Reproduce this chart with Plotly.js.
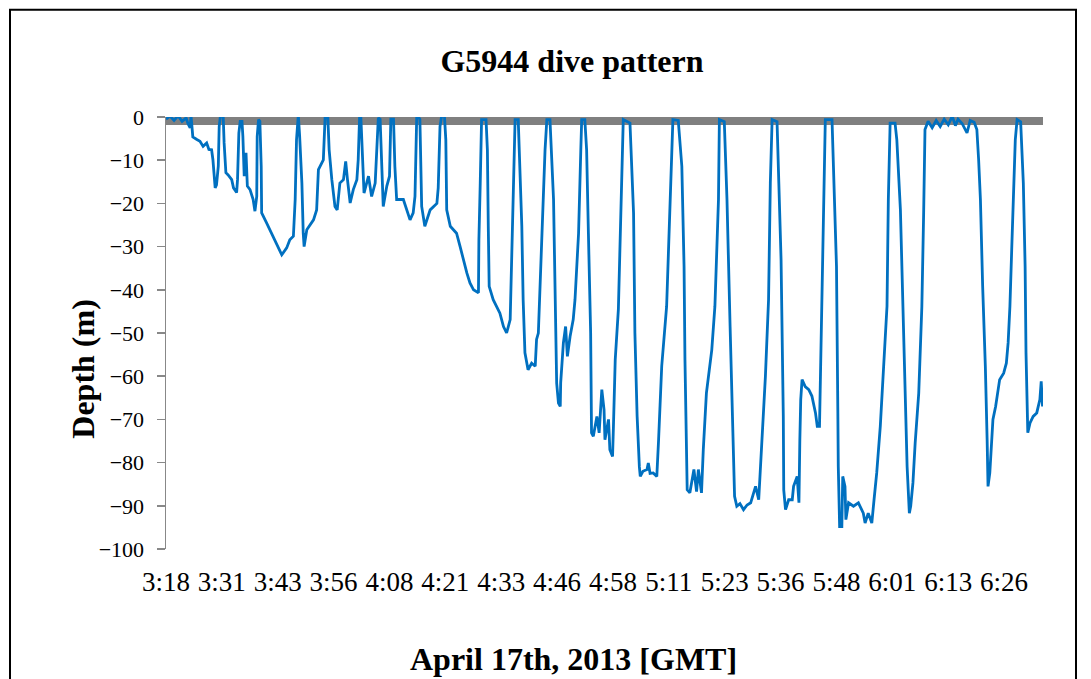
<!DOCTYPE html>
<html>
<head>
<meta charset="utf-8">
<script src="https://cdn.plot.ly/plotly-3.0.1.min.js"></script>
<style>
html,body{margin:0;padding:0;background:#fff;}
#chart{width:1091px;height:679px;}
</style>
</head>
<body>
<div id="chart"></div>
<script>
// Elapsed minutes since 03:18 GMT, April 17th 2013
const timeMin = [
0,0.9,1.8,2.7,3.6,4.5,4.9,5.4,5.6,6.0,6.9,7.6,8.3,9.1,9.6,10.2,10.5,10.7,11.0,11.3,11.7,11.9,12.2,12.8,13.0,13.4,13.9,14.7,15.1,15.8,16.0,16.3,16.6,17.0,17.2,17.5,17.9,18.2,18.8,19.5,19.9,20.3,20.4,20.7,21.0,21.3,21.4,22.5,24.0,25.5,25.9,27.0,27.7,28.5,28.9,29.2,29.6,29.9,30.4,30.7,30.9,31.5,33.0,33.7,34.1,35.2,35.6,36.2,36.5,37.1,37.8,38.3,38.9,39.7,40.2,40.6,41.2,41.9,42.7,43.0,43.3,43.6,44.0,44.3,45.3,46.0,46.8,47.1,47.5,47.9,48.2,48.6,49.4,50.0,50.3,50.9,51.2,51.6,53.1,53.9,54.6,55.3,55.7,56.1,56.8,57.2,57.9,59.1,60.6,60.9,61.3,61.7,62.3,62.6,62.8,63.6,65.0,65.8,66.5,67.3,68.0,68.8,69.9,70.0,70.3,70.6,71.6,71.9,72.1,72.3,73.2,74.7,75.5,76.2,77.0,77.2,77.7,78.1,78.8,79.2,79.6,79.9,80.3,81.0,81.8,82.6,82.9,83.3,83.7,84.3,84.8,85.2,85.9,86.7,87.1,87.4,87.8,88.2,88.3,88.9,89.4,89.8,90.4,91.1,91.5,92.3,92.8,93.0,93.7,94.1,94.5,95.0,95.2,95.6,96.4,96.9,97.5,98.0,98.2,99.0,99.3,99.9,100.1,100.5,101.2,101.6,102.0,102.3,103.8,104.6,104.9,105.4,105.9,106.1,106.7,107.6,107.9,108.3,109.0,109.8,110.2,110.9,112.0,112.6,113.1,113.4,114.6,115.4,115.9,116.1,116.6,117.2,118.1,118.7,119.1,119.8,120.2,120.9,122.1,122.8,123.6,123.8,124.9,125.5,126.2,126.6,127.2,127.7,128.4,129.2,130.0,130.8,131.9,132.6,133.0,133.7,134.1,134.8,135.2,135.6,136.7,137.1,137.6,138.1,138.2,138.6,139.3,140.1,140.4,141.2,141.6,141.8,142.0,142.3,143.0,143.8,144.5,145.3,145.7,146.2,146.3,146.6,146.8,147.1,147.5,149.0,149.4,150.0,150.3,150.4,150.7,151.2,151.4,151.9,152.1,152.7,153.8,154.9,156.0,156.4,157.1,157.9,158.4,159.0,159.8,160.5,161.3,161.6,162.0,163.1,163.5,164.3,164.9,165.4,165.8,166.3,166.6,167.1,167.6,168.4,168.7,169.1,169.5,169.8,170.5,171.4,172.3,173.2,174.1,175.0,175.9,176.6,177.2,178.1,179.2,179.9,180.8,181.4,181.8,182.2,182.7,183.1,183.3,183.7,183.9,184.3,184.6,185.0,185.6,186.1,186.5,187.4,188.0,188.4,188.8,189.2,190.0,190.4,191.2,191.8,192.2,192.4,192.6,192.8,193.3,194.0,194.8,195.5,195.8,196.1
];
// Depth in metres (negative = below surface)
const depthM = [
-0.5,0.2,-0.8,0.3,-1.0,-0.2,-1.5,-2.5,0.3,-4.6,-5.2,-5.6,-6.8,-6.0,-7.5,-7.6,-9.9,-13.7,-16.4,-15.7,-11.4,-2.2,0.5,0,-6,-12.9,-13.4,-14.5,-16.4,-17.5,-14.5,-3.7,-1.0,-1.0,-4.5,-13.7,-8.3,-16,-16.8,-19.1,-21.8,-18.4,-4.5,-0.6,-1.0,-11.4,-22.2,-24.5,-27.6,-30.7,-31.9,-30.3,-28.4,-27.6,-19.1,-5.3,0.5,-4.5,-15.3,-26.9,-30.0,-26.1,-23.8,-21.5,-12.2,-9.9,0.1,0,-7.6,-14.5,-20.7,-21.5,-15.3,-14.5,-10.3,-14.5,-19.9,-16.8,-14.5,-9.9,-0.2,-0.2,-11.4,-17.6,-13.7,-18.4,-15.3,-7.6,-0.2,-0.5,-11.4,-20.7,-16,-13.7,-0.5,-0.5,-11.4,-19.1,-19.1,-21.5,-23.8,-22.2,-18.4,0.5,-0.5,-20.7,-25.3,-21.5,-20,-16.4,-2.2,0.5,0.1,-5.3,-21.5,-25.3,-26.9,-30,-33,-36.1,-38.4,-40,-40.7,-28.4,-15.3,-0.6,-0.6,-7.6,-25.3,-39.2,-42.3,-45.4,-48.5,-50,-46.9,-38.4,-13.7,-0.6,-0.6,-11.4,-25.3,-42.3,-54.6,-58.5,-57,-57.7,-51.5,-50,-38.4,-23,-7.6,-0.6,-0.6,-19.1,-50,-61.6,-66.2,-67,-61.5,-52.3,-48.5,-55.4,-50.8,-46.9,-42.3,-26.9,-7.6,-0.6,-0.6,-7.6,-26.9,-50,-73.1,-73.9,-69.3,-73.1,-63.1,-67.8,-74.7,-70,-77,-78.6,-71.6,-56.2,-44.6,-30,-11.4,-0.6,-1.4,-22.2,-50,-69.3,-81,-83.2,-82,-81.6,-80.1,-82.5,-82.4,-83.2,-74.7,-57.7,-43.8,-23,-7.6,-0.6,-0.8,-11.4,-34.6,-56.2,-86.3,-87,-81.6,-86.7,-81.6,-87,-77,-63.9,-53.9,-43.8,-19.1,-0.6,-1.1,-19.1,-48.5,-65.4,-87.8,-90.1,-89.5,-90.9,-89.8,-89.3,-85.5,-88.6,-80.9,-69.3,-60,-42.3,-15.3,-0.6,-1.1,-15.3,-33,-69.3,-86.3,-90.9,-88.6,-88.6,-85.5,-83.2,-89.3,-74.7,-65.4,-60.8,-62.4,-63.1,-64.6,-68.5,-71.6,-71.6,-65.4,-53.9,-42.3,-19.1,-0.6,-0.6,-16,-34.6,-67.8,-80.9,-94.8,-94.8,-83.2,-85.5,-93.2,-89.3,-90.1,-89.3,-91.7,-94,-91.7,-94,-88.6,-82.4,-71.6,-59.3,-43.8,-19.1,-1.4,-1.4,-5.3,-21.5,-43.8,-63.9,-80.9,-91.7,-90.1,-84.7,-75.5,-63.9,-53.9,-43.8,-22.2,-2.9,-1.0,-2.5,-0.8,-2.2,-0.5,-1.8,0.2,-2.0,-0.5,-1.5,-3.7,-0.8,-1.2,-2.9,-9.9,-19.1,-39.2,-50,-57.7,-74.7,-85.5,-82.4,-77.8,-70,-67,-63.9,-60.8,-59.3,-57,-52.3,-43.8,-30.7,-5.3,-0.6,-1.1,-15.3,-34.6,-54.6,-67.8,-73.1,-70.8,-69.3,-68.5,-65.4,-61.2,-67
];
// Category tick positions (minutes since 03:18) and their labels
const tickMinutes = [0,12.5,25,37.5,50,62.5,75,87.5,100,112.5,125,137.5,150,162.5,175,187.5];
const tickLabels = ["3:18","3:31","3:43","3:56","4:08","4:21","4:33","4:46","4:58","5:11","5:23","5:36","5:48","6:01","6:13","6:26"];
const yTicks = [0,-10,-20,-30,-40,-50,-60,-70,-80,-90,-100];

const chartTitle = "G5944 dive pattern";
const xTitle = "April 17th, 2013 [GMT]";
const yTitle = "Depth (m)";

const serif = "'Liberation Serif', 'Times New Roman', serif";
const L = 166, R = 1043, T = 117.3, B = 549.3;
const pw = R - L, ph = B - T;
const px = p => (p - L) / pw;
const py = p => (B - p) / ph;

const trace = {
  x: timeMin, y: depthM, type: 'scatter', mode: 'lines',
  line: {color: '#0070C0', width: 2.8}, hoverinfo: 'skip', showlegend: false
};

const layout = {
  width: 1091, height: 679,
  margin: {l: L, r: 1091 - R, t: T, b: 679 - B, pad: 0},
  paper_bgcolor: '#ffffff', plot_bgcolor: '#ffffff',
  showlegend: false,
  font: {family: serif, color: '#000'},
  title: {text: '<b>' + chartTitle + '</b>', font: {family: serif, size: 32, color: '#000'},
          xref: 'paper', x: px(572), xanchor: 'center', yref: 'container', y: 1 - 61/679, yanchor: 'middle'},
  xaxis: {
    range: [0, 196.2], tickmode: 'array', tickvals: tickMinutes, ticktext: tickLabels,
    showgrid: false, zeroline: false, showline: false, ticks: '',
    ticklabelstandoff: 14,
    tickfont: {family: serif, size: 27, color: '#000'}
  },
  yaxis: {
    range: [-100, 0], tickmode: 'array', tickvals: yTicks,
    showgrid: false, zeroline: false, showline: true, linecolor: '#888888', linewidth: 1.5,
    ticks: 'outside', ticklen: 8, tickcolor: '#888888', tickwidth: 1.5,
    ticklabelstandoff: 8,
    tickfont: {family: serif, size: 22, color: '#000'}
  },
  shapes: [
    {type: 'rect', xref: 'x', yref: 'y', x0: 0, x1: 196.3, y0: 0, y1: -1.85,
     fillcolor: '#808080', line: {width: 0}, layer: 'below'},
    {type: 'rect', xref: 'paper', yref: 'paper', x0: px(10), x1: px(1076), y0: py(10), y1: py(720),
     fillcolor: 'rgba(0,0,0,0)', line: {color: '#000', width: 2}, layer: 'above'}
  ],
  annotations: [
    {text: '<b>' + yTitle + '</b>', textangle: -90, xref: 'paper', yref: 'paper',
     x: px(83), y: py(369), xanchor: 'center', yanchor: 'middle', showarrow: false,
     font: {family: serif, size: 32, color: '#000'}},
    {text: '<b>' + xTitle + '</b>', xref: 'paper', yref: 'paper',
     x: px(573), y: py(659), xanchor: 'center', yanchor: 'middle', showarrow: false,
     font: {family: serif, size: 32, color: '#000'}}
  ]
};

Plotly.newPlot('chart', [trace], layout, {staticPlot: true, displayModeBar: false});
</script>
</body>
</html>
